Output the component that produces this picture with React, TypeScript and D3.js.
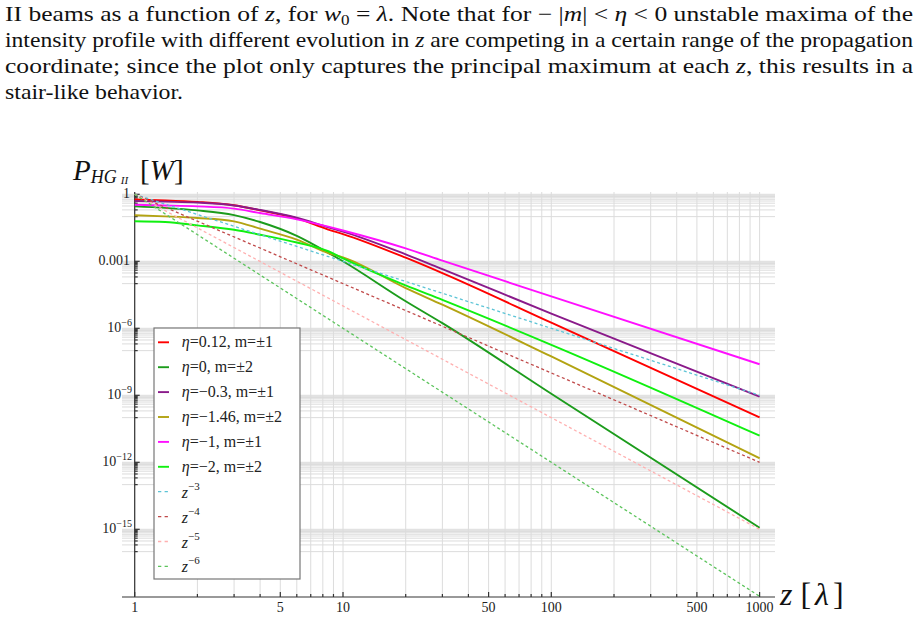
import React from 'react';
import * as d3 from 'd3';

const W = 919;
const H = 620;

// sample positions along z (units of λ)
const zSamples = [1, 1.4, 2, 3, 4, 6, 8.5, 10, 20, 30, 100, 1000];

// log10 of the power (W) at each sample, one array per beam
const etaP012m1 = [-0.23, -0.27, -0.34, -0.49, -0.72, -1.08, -1.58, -1.78, -2.84, -3.53, -5.75, -9.99];
const eta0m2 = [-0.54, -0.61, -0.72, -0.93, -1.24, -1.86, -2.62, -3.0, -4.79, -5.77, -8.93, -14.93];
const etaM03m1 = [-0.3, -0.33, -0.37, -0.5, -0.7, -1.05, -1.48, -1.67, -2.69, -3.35, -5.34, -9.06];
const etaM146m2 = [-0.94, -0.99, -1.06, -1.21, -1.54, -2.03, -2.63, -2.82, -4.2, -4.94, -7.26, -11.82];
const etaM1m1 = [-0.47, -0.5, -0.54, -0.64, -0.84, -1.12, -1.45, -1.62, -2.42, -2.97, -4.57, -7.61];
const etaM2m2 = [-1.21, -1.24, -1.39, -1.59, -1.81, -2.16, -2.55, -2.87, -4.08, -4.73, -6.74, -10.81];

// power-law guides, log10 value at both ends of zGuide
const zGuide = [1, 1000];
const guideZ3 = [0, -9];
const guideZ4 = [0, -12];
const guideZ5 = [0, -15];
const guideZ6 = [0, -18];

const beamLabels = [
  ['0.12', '±1'],
  ['0', '±2'],
  ['−0.3', '±1'],
  ['−1.46', '±2'],
  ['−1', '±1'],
  ['−2', '±2'],
];
const guideLabels = ['−3', '−4', '−5', '−6'];

const yTickExp = [0, -3, -6, -9, -12, -15];
const xTickLabels = [1, 5, 10, 50, 100, 500, 1000];

const beams = [
  { v: etaP012m1, color: '#ff0000' },
  { v: eta0m2, color: '#1c9c1c' },
  { v: etaM03m1, color: '#8a1a8a' },
  { v: etaM146m2, color: '#b3a312' },
  { v: etaM1m1, color: '#ff10ff' },
  { v: etaM2m2, color: '#10f010' },
];
const guides = [
  { v: guideZ3, color: '#5cc4d6' },
  { v: guideZ4, color: '#c04a4a' },
  { v: guideZ5, color: '#ffb0b0' },
  { v: guideZ6, color: '#5cc45c' },
];

const serif = '"Liberation Serif", "Times New Roman", serif';

export default function App() {
  const x = d3.scaleLog().domain([1, 1000]).range([134.7, 759.6]);
  const y = d3.scaleLog().domain([1e-18, 1]).range([596.3, 194.3]);
  const x0 = 122, x1 = 775, yTop = 192, yAxis = 597;

  const line = d3
    .line<[number, number]>()
    .x((d) => x(d[0]))
    .y((d) => y(Math.pow(10, d[1])))
    .curve(d3.curveMonotoneX);

  // grid: decades plus the minor steps of the decade under each labelled tick
  const hGrid: number[] = [];
  yTickExp.forEach((e) => {
    hGrid.push(Math.pow(10, e));
    for (let k = 1; k <= 9; k++) hGrid.push(k * Math.pow(10, e - 1));
  });
  const vGrid: number[] = [];
  for (let p = 0; p < 3; p++) for (let k = 1; k <= 9; k++) vGrid.push(k * Math.pow(10, p));
  vGrid.push(1000);

  const legendX = 154, legendY = 328, rowH = 24.9;

  return (
    <svg width={W} height={H} style={{ position: 'absolute', left: 0, top: 0, background: '#fff' }}>
      {/* caption */}
      <g fontFamily={serif} fontSize={21} fill="#111">
        <text x={5} y={21} textLength={908} lengthAdjust="spacingAndGlyphs">
          II beams as a function of <tspan fontStyle="italic">z</tspan>, for{' '}
          <tspan fontStyle="italic">w</tspan>
          <tspan fontSize={14} dy={4}>0</tspan>
          <tspan dy={-4}> = </tspan>
          <tspan fontStyle="italic">λ</tspan>. Note that for − |<tspan fontStyle="italic">m</tspan>| &lt;{' '}
          <tspan fontStyle="italic">η</tspan> &lt; 0 unstable maxima of the
        </text>
        <text x={5} y={47} textLength={908} lengthAdjust="spacingAndGlyphs">
          intensity profile with different evolution in <tspan fontStyle="italic">z</tspan> are competing in a
          certain range of the propagation
        </text>
        <text x={5} y={73} textLength={908} lengthAdjust="spacingAndGlyphs">
          coordinate; since the plot only captures the principal maximum at each{' '}
          <tspan fontStyle="italic">z</tspan>, this results in a
        </text>
        <text x={5} y={99} textLength={178} lengthAdjust="spacingAndGlyphs">
          stair-like behavior.
        </text>
      </g>

      {/* grid */}
      <g stroke="#dcdcdc" strokeWidth={1}>
        {hGrid.map((v, i) => (
          <line key={'h' + i} x1={x0} x2={x1} y1={y(v)} y2={y(v)} />
        ))}
        {vGrid.map((v, i) => (
          <line key={'v' + i} x1={x(v)} x2={x(v)} y1={yTop} y2={yAxis} />
        ))}
      </g>

      {/* axes */}
      <g stroke="#333" strokeWidth={1.2}>
        <line x1={x(1)} x2={x(1)} y1={yTop} y2={yAxis} />
        <line x1={x0} x2={x1} y1={yAxis} y2={yAxis} stroke="#777" strokeWidth={1.6} />
        {hGrid.map((v, i) => (
          <line key={'yt' + i} x1={x(1)} x2={x(1) + (i % 10 === 0 ? 5 : 3)} y1={y(v)} y2={y(v)} />
        ))}
        {vGrid.map((v, i) => (
          <line
            key={'xt' + i}
            x1={x(v)}
            x2={x(v)}
            y1={yAxis}
            y2={yAxis - (xTickLabels.includes(v) ? 5 : 3)}
          />
        ))}
      </g>

      {/* tick labels */}
      <g fontFamily={serif} fontSize={14} fill="#222">
        {yTickExp.map((e) =>
          e === 0 ? (
            <text key={e} x={130} y={y(1) + 4} textAnchor="end">1</text>
          ) : e === -3 ? (
            <text key={e} x={130} y={y(1e-3) + 4} textAnchor="end">0.001</text>
          ) : (
            <text key={e} x={132} y={y(Math.pow(10, e)) + 4} textAnchor="end">
              10<tspan fontSize={10} dy={-6}>{'−' + -e}</tspan>
            </text>
          ),
        )}
        {xTickLabels.map((v) => (
          <text key={v} x={x(v)} y={612} textAnchor="middle">{v}</text>
        ))}
      </g>

      {/* guides and beams */}
      <g fill="none">
        {beams.map((b, i) => (
          <path
            key={'b' + i}
            d={line(zSamples.map((z, j) => [z, b.v[j]]) as [number, number][]) || ''}
            stroke={b.color}
            strokeWidth={1.9}
          />
        ))}
        {guides.map((g, i) => (
          <path
            key={'g' + i}
            d={line(zGuide.map((z, j) => [z, g.v[j]]) as [number, number][]) || ''}
            stroke={g.color}
            strokeWidth={1.3}
            strokeDasharray="3,2.6"
          />
        ))}
      </g>

      {/* axis titles */}
      <text x={73} y={180} fontFamily={serif} fontSize={29} fill="#111">
        <tspan fontStyle="italic">P</tspan>
        <tspan fontStyle="italic" fontSize={18} dy={3}>HG</tspan>
        <tspan fontStyle="italic" fontSize={11} dy={1} dx={4}>II</tspan>
        <tspan dy={-4} dx={12}>[</tspan>
        <tspan fontStyle="italic">W</tspan>
        <tspan>]</tspan>
      </text>
      <text x={780} y={605} fontFamily={serif} fontSize={32} fill="#111">
        <tspan fontStyle="italic">z</tspan>
        <tspan dx={8}>[</tspan>
        <tspan fontStyle="italic" dx={4}>λ</tspan>
        <tspan dx={4}>]</tspan>
      </text>

      {/* legend */}
      <g fontFamily={serif} fontSize={16} fill="#222">
        <rect x={legendX} y={legendY} width={146} height={251} fill="#fff" stroke="#777" strokeWidth={1.2} />
        {beamLabels.map((l, i) => {
          const cy = legendY + 14.3 + i * rowH;
          return (
            <g key={'lb' + i}>
              <line x1={158} x2={169} y1={cy} y2={cy} stroke={beams[i].color} strokeWidth={1.9} />
              <text x={181.7} y={cy + 5}>
                <tspan fontStyle="italic">η</tspan>={l[0]}, m={l[1]}
              </text>
            </g>
          );
        })}
        {guideLabels.map((l, i) => {
          const cy = legendY + 14.3 + (i + 6) * rowH;
          return (
            <g key={'lg' + i}>
              <line
                x1={158}
                x2={169}
                y1={cy}
                y2={cy}
                stroke={guides[i].color}
                strokeWidth={1.3}
                strokeDasharray="3.3,3.3"
              />
              <text x={181.7} y={cy + 6}>
                <tspan fontStyle="italic">z</tspan>
                <tspan fontSize={11} dy={-8}>{l}</tspan>
              </text>
            </g>
          );
        })}
      </g>
    </svg>
  );
}
